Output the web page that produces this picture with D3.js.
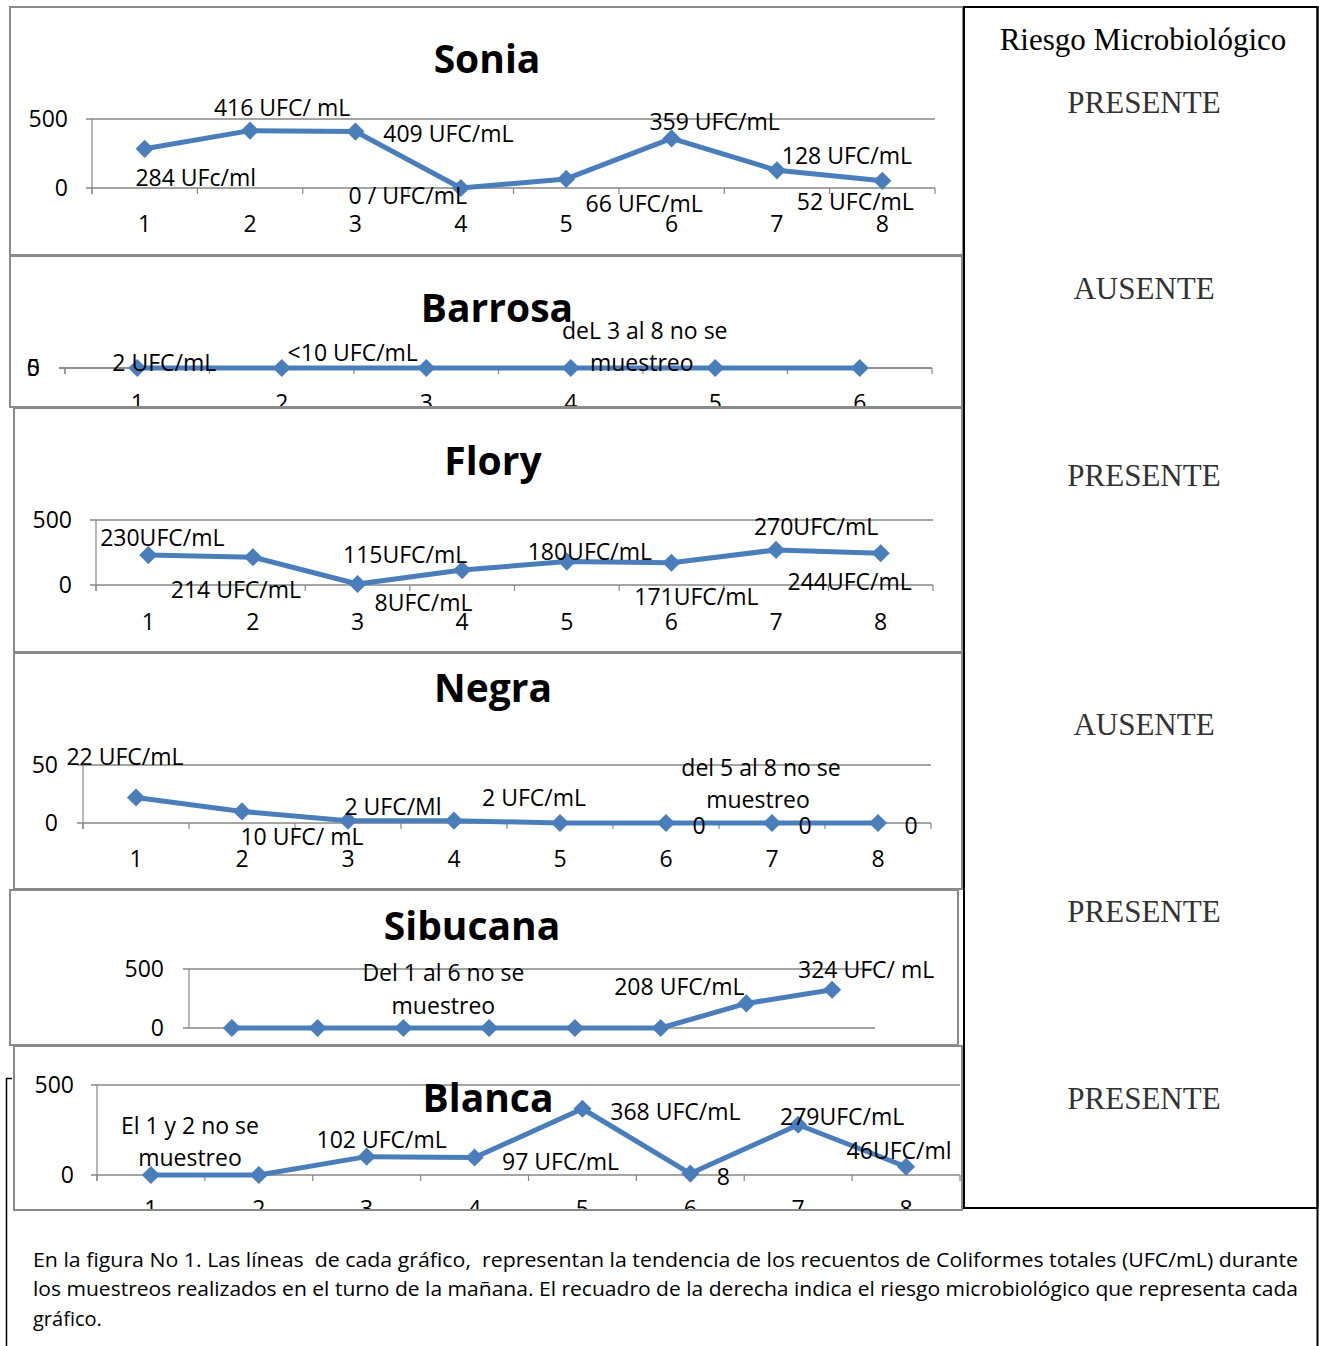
<!DOCTYPE html>
<html><head><meta charset="utf-8">
<script src="https://cdn.jsdelivr.net/npm/d3@7"></script>
<style>body{margin:0;background:#fff} svg{display:block}</style>
</head><body><div id="chart"></div>
<script>
// ---------- DATA ----------
const cats8 = [1, 2, 3, 4, 5, 6, 7, 8];
const cats6 = [1, 2, 3, 4, 5, 6];

const soniaValues = [284, 416, 409, 0, 66, 359, 128, 52];
const soniaLabels = ["284 UFc/ml", "416 UFC/ mL", "409 UFC/mL", "0 / UFC/mL", "66 UFC/mL", "359 UFC/mL", "128 UFC/mL", "52 UFC/mL"];
const soniaTicks = [0, 500];

const barrosaValues = [0, 0, 0, 0, 0, 0];
const barrosaLabels = ["2 UFC/mL", "<10 UFC/mL", "", "", "", ""];
const barrosaTicks = [0, 5];
const barrosaNote = ["deL 3 al 8 no se", "muestreo"];

const floryValues = [230, 214, 8, 115, 180, 171, 270, 244];
const floryLabels = ["230UFC/mL", "214 UFC/mL", "8UFC/mL", "115UFC/mL", "180UFC/mL", "171UFC/mL", "270UFC/mL", "244UFC/mL"];
const floryTicks = [0, 500];

const negraValues = [22, 10, 2, 2, 0, 0, 0, 0];
const negraLabels = ["22 UFC/mL", "10 UFC/ mL", "2 UFC/Ml", "2 UFC/mL", "", "0", "0", "0"];
const negraTicks = [0, 50];
const negraNote = ["del 5 al 8 no se", "muestreo"];

const sibucanaValues = [0, 0, 0, 0, 0, 0, 208, 324];
const sibucanaLabels = ["", "", "", "", "", "", "208 UFC/mL", "324 UFC/ mL"];
const sibucanaTicks = [0, 500];
const sibucanaNote = ["Del 1 al 6 no se", "muestreo"];

const blancaValues = [0, 0, 102, 97, 368, 8, 279, 46];
const blancaLabels = ["", "", "102 UFC/mL", "97 UFC/mL", "368 UFC/mL", "8", "279UFC/mL", "46UFC/ml"];
const blancaTicks = [0, 500];
const blancaNote = ["El 1 y 2 no se", "muestreo"];

const riskTitle = "Riesgo Microbiológico";
const riskValues = ["PRESENTE", "AUSENTE", "PRESENTE", "AUSENTE", "PRESENTE", "PRESENTE"];

const captionLines = [
  "En la figura No 1. Las líneas  de cada gráfico,  representan la tendencia de los recuentos de Coliformes totales (UFC/mL) durante",
  "los muestreos realizados en el turno de la mañana. El recuadro de la derecha indica el riesgo microbiológico que representa cada",
  "gráfico."
];

// ---------- LAYOUT ----------
const W = 1319, H = 1346;
const FONT = "'Open Sans', 'Noto Sans', sans-serif";
const BLUE = "#4a7ebb";
const GRID = "#878787";
const LBL = 23, AX = 23;

const panels = [
  { title: "Sonia", cats: cats8, values: soniaValues, labels: soniaLabels, ticks: soniaTicks, note: null,
    box: [10, 7, 963, 255], titleX: 487, titleY: 73, plotX: [92, 935], plotY: [188, 119], yLabelX: 68, xLabelY: 232, xTicks: true,
    offsets: [[51, 28], [32, -24], [93, 1], [-53, 7], [78, 24], [43, -17], [70, -15], [-27, 20]] },
  { title: "Barrosa", cats: cats6, values: barrosaValues, labels: barrosaLabels, ticks: barrosaTicks, note: barrosaNote,
    box: [10, 256, 962, 407], titleX: 497, titleY: 322, plotX: [65, 932], plotY: [368, 368], yLabelX: 40, xLabelY: 411, xTicks: true,
    offsets: [[27, -6], [71, -16], [0, 0], [0, 0], [0, 0], [0, 0]], noteAt: [4, 74, 71, -38, -6] },
  { title: "Flory", cats: cats8, values: floryValues, labels: floryLabels, ticks: floryTicks, note: null,
    box: [14, 408, 962, 652], titleX: 493, titleY: 475, plotX: [96, 933], plotY: [585, 520], yLabelX: 72, xLabelY: 630, xTicks: true,
    offsets: [[14, -18], [-17, 32], [66, 18], [-57, -16], [23, -11], [25, 33], [40, -24], [-31, 28]] },
  { title: "Negra", cats: cats8, values: negraValues, labels: negraLabels, ticks: negraTicks, note: negraNote,
    box: [14, 653, 962, 889], titleX: 493, titleY: 702, plotX: [83, 931], plotY: [823, 765], yLabelX: 58, xLabelY: 867, xTicks: true,
    offsets: [[-11, -41], [60, 25], [45, -15], [80, -24], [0, 0], [33, 2], [33, 2], [33, 2]], noteAt: [7, -11, -14, -56, -24] },
  { title: "Sibucana", cats: cats8, values: sibucanaValues, labels: sibucanaLabels, ticks: sibucanaTicks, note: sibucanaNote,
    box: [10, 890, 958, 1045], titleX: 472, titleY: 940, plotX: [189, 875], plotY: [1028, 969], yLabelX: 164, xLabelY: null, xTicks: false,
    offsets: [[0, 0], [0, 0], [0, 0], [0, 0], [0, 0], [0, 0], [-67, -17], [34, -21]], noteAt: [3, 40, 40, -56, -23] },
  { title: "Blanca", cats: cats8, values: blancaValues, labels: blancaLabels, ticks: blancaTicks, note: blancaNote,
    box: [14, 1046, 962, 1210], titleX: 488, titleY: 1112, plotX: [97, 960], plotY: [1175, 1085], yLabelX: 74, xLabelY: 1217, xTicks: true,
    offsets: [[0, 0], [0, 0], [15, -18], [86, 3], [93, 2], [33, 2], [44, -9], [-7, -17]], noteAt: [1, 39, 39, -50, -18] }
];

const svg = d3.select("#chart").append("svg")
  .attr("width", W).attr("height", H)
  .style("font-family", FONT);

svg.append("rect").attr("width", W).attr("height", H).attr("fill", "#fff");

const defs = svg.append("defs");

// outer frame lines
svg.append("line").attr("x1", 6.5).attr("x2", 6.5).attr("y1", 1078).attr("y2", H)
  .attr("stroke", "#000").attr("stroke-width", 1.5);
svg.append("line").attr("x1", 6).attr("x2", 12).attr("y1", 1078.5).attr("y2", 1078.5)
  .attr("stroke", "#000").attr("stroke-width", 1.5);
svg.append("line").attr("x1", 1317.5).attr("x2", 1317.5).attr("y1", 7).attr("y2", H)
  .attr("stroke", "#000").attr("stroke-width", 2);

const marker = d3.symbol().type(d3.symbolSquare).size(165);

panels.forEach((p, i) => {
  const [bx0, by0, bx1, by1] = p.box;
  const clipId = "clip" + i;
  defs.append("clipPath").attr("id", clipId).append("rect")
    .attr("x", bx0).attr("y", by0).attr("width", bx1 - bx0).attr("height", by1 - by0);

  const g = svg.append("g");
  g.append("rect").attr("x", bx0).attr("y", by0).attr("width", bx1 - bx0).attr("height", by1 - by0)
    .attr("fill", "#fff");
  const c = g.append("g").attr("clip-path", `url(#${clipId})`);

  const x = d3.scaleBand().domain(p.cats).range(p.plotX).padding(0);
  const y = d3.scaleLinear().domain(d3.extent(p.ticks)).range(p.plotY);
  const cx = d => x(d) + x.bandwidth() / 2;

  const pts = p.values.map((v, k) => ({ cat: p.cats[k], v, label: p.labels[k], off: p.offsets[k] }));

  // gridlines
  p.ticks.forEach(t => {
    c.append("line").attr("x1", p.plotX[0] - 6).attr("x2", p.plotX[1])
      .attr("y1", y(t)).attr("y2", y(t))
      .attr("stroke", GRID).attr("stroke-width", 1.4);
  });
  // vertical axis
  c.append("line").attr("x1", p.plotX[0]).attr("x2", p.plotX[0])
    .attr("y1", y(d3.max(p.ticks))).attr("y2", y(0) + (p.xTicks ? 6 : 0))
    .attr("stroke", GRID).attr("stroke-width", 1.2);
  // x tick marks at band boundaries
  if (p.xTicks) {
    const bounds = p.cats.map(d => x(d)).concat([p.plotX[1]]);
    bounds.forEach(b => {
      c.append("line").attr("x1", b).attr("x2", b).attr("y1", y(0)).attr("y2", y(0) + 6)
        .attr("stroke", GRID).attr("stroke-width", 1.2);
    });
  }

  // y axis labels
  const yAxis = d3.axisLeft(y).tickValues(p.ticks).tickSize(0)
    .tickPadding(p.plotX[0] - p.yLabelX).tickFormat(d3.format("d"));
  const ya = c.append("g").attr("transform", `translate(${p.plotX[0]},0)`).call(yAxis);
  ya.select(".domain").remove();
  ya.selectAll("text").attr("font-size", AX).attr("font-family", FONT).attr("fill", "#000");

  // x axis labels
  if (p.xLabelY !== null) {
    const xAxis = d3.axisBottom(x).tickSize(0).tickPadding(p.xLabelY - y(0) - 0.71 * AX);
    const xa = c.append("g").attr("transform", `translate(0,${y(0)})`).call(xAxis);
    xa.select(".domain").remove();
    xa.selectAll("text").attr("font-size", AX).attr("font-family", FONT).attr("fill", "#000");
  }

  // title
  c.append("text").attr("x", p.titleX).attr("y", p.titleY)
    .attr("text-anchor", "middle").attr("font-size", 39).attr("font-weight", "bold")
    .attr("fill", "#000").text(p.title);

  // line
  const line = d3.line().x(d => cx(d.cat)).y(d => y(d.v));
  c.append("path").datum(pts).attr("d", line)
    .attr("fill", "none").attr("stroke", BLUE).attr("stroke-width", 5)
    .attr("stroke-linejoin", "round").attr("stroke-linecap", "round");

  // markers
  c.selectAll(null).data(pts).enter().append("path")
    .attr("d", marker)
    .attr("transform", d => `translate(${cx(d.cat)},${y(d.v)}) rotate(45)`)
    .attr("fill", BLUE);

  // data labels
  c.selectAll(null).data(pts.filter(d => d.label !== "")).enter().append("text")
    .attr("x", d => cx(d.cat) + d.off[0])
    .attr("y", d => y(d.v) + d.off[1])
    .attr("text-anchor", "middle").attr("dominant-baseline", "central")
    .attr("font-size", LBL).attr("fill", "#000")
    .style("white-space", "pre")
    .text(d => d.label);

  // note
  if (p.note) {
    const [cat, dx1, dx2, dy1, dy2] = p.noteAt;
    const base = cx(cat);
    c.append("text").attr("x", base + dx1).attr("y", y(0) + dy1)
      .attr("text-anchor", "middle").attr("dominant-baseline", "central")
      .attr("font-size", LBL).attr("fill", "#000").text(p.note[0]);
    c.append("text").attr("x", base + dx2).attr("y", y(0) + dy2)
      .attr("text-anchor", "middle").attr("dominant-baseline", "central")
      .attr("font-size", LBL).attr("fill", "#000").text(p.note[1]);
  }

  // border
  g.append("rect").attr("x", bx0).attr("y", by0).attr("width", bx1 - bx0).attr("height", by1 - by0)
    .attr("fill", "none").attr("stroke", "#8a8a8a").attr("stroke-width", 2);
});

// right risk box
svg.append("rect").attr("x", 964).attr("y", 7).attr("width", 1317.5 - 964).attr("height", 1208 - 7)
  .attr("fill", "none").attr("stroke", "#000").attr("stroke-width", 2);
svg.append("text").attr("x", 1143).attr("y", 50).attr("text-anchor", "middle")
  .attr("font-family", "'Liberation Serif', 'DejaVu Serif', serif").attr("font-size", 31)
  .attr("fill", "#000").text(riskTitle);
const riskY = [113, 299, 486, 735, 922, 1109];
svg.selectAll(null).data(riskValues).enter().append("text")
  .attr("x", 1144).attr("y", (d, k) => riskY[k]).attr("text-anchor", "middle")
  .attr("font-family", "'Liberation Serif', 'DejaVu Serif', serif").attr("font-size", 31)
  .attr("fill", "#333").text(d => d);

// caption
const capY = [1267, 1296, 1326];
svg.selectAll(null).data(captionLines).enter().append("text")
  .attr("x", 33).attr("y", (d, k) => capY[k])
  .attr("font-size", 20).attr("fill", "#000")
  .style("white-space", "pre")
  .each(function (d, k) {
    if (k < 2) d3.select(this).attr("textLength", 1265).attr("lengthAdjust", "spacingAndGlyphs");
  })
  .text(d => d);
</script>
</body></html>
